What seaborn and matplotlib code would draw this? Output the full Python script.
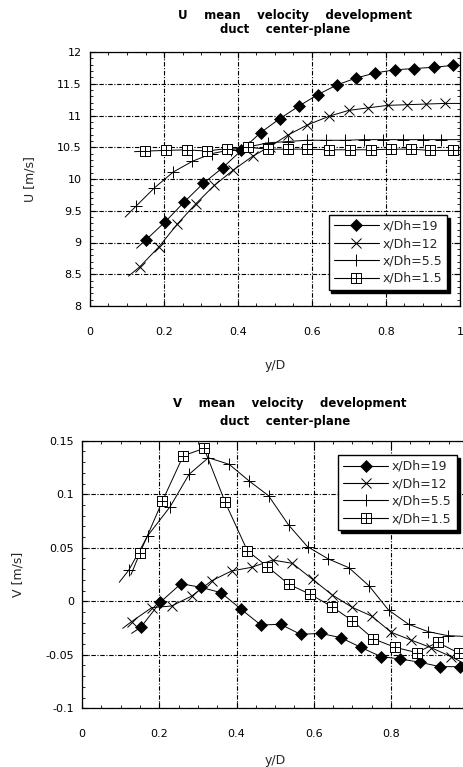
import matplotlib
matplotlib.use("Agg")
import matplotlib.pyplot as plt
import seaborn as sns
from matplotlib.path import Path
from matplotlib.lines import Line2D
from matplotlib.ticker import MultipleLocator, FixedLocator, FixedFormatter

sns.set_theme(style="ticks")
plt.rcParams['font.family'] = ['DejaVu Sans']

# ---------------- data: U mean velocity ----------------
labels = ["x/Dh=19", "x/Dh=12", "x/Dh=5.5", "x/Dh=1.5"]

u19_x = [0.126, 0.151, 0.204, 0.255, 0.306, 0.359, 0.409, 0.461, 0.513, 0.565, 0.616, 0.667, 0.719, 0.771, 0.824, 0.877, 0.930, 0.982]
u19_y = [8.91, 9.04, 9.33, 9.64, 9.93, 10.18, 10.45, 10.73, 10.95, 11.15, 11.33, 11.48, 11.59, 11.67, 11.72, 11.74, 11.76, 11.79]

u12_x = [0.104, 0.135, 0.186, 0.236, 0.286, 0.336, 0.387, 0.440, 0.486, 0.534, 0.587, 0.647, 0.699, 0.751, 0.805, 0.856, 0.907, 0.959, 1.0]
u12_y = [8.47, 8.62, 8.93, 9.29, 9.61, 9.90, 10.14, 10.36, 10.51, 10.69, 10.85, 10.99, 11.08, 11.12, 11.16, 11.17, 11.18, 11.19, 11.19]

u55_x = [0.095, 0.124, 0.174, 0.225, 0.277, 0.329, 0.380, 0.431, 0.482, 0.534, 0.586, 0.637, 0.689, 0.741, 0.793, 0.847, 0.899, 0.950, 1.0]
u55_y = [9.40, 9.57, 9.86, 10.11, 10.28, 10.40, 10.46, 10.51, 10.57, 10.59, 10.61, 10.61, 10.61, 10.62, 10.62, 10.62, 10.62, 10.62, 10.62]

u15_x = [0.12, 0.150, 0.205, 0.261, 0.315, 0.371, 0.426, 0.480, 0.536, 0.587, 0.647, 0.703, 0.759, 0.813, 0.868, 0.919, 0.980, 1.0]
u15_y = [10.43, 10.44, 10.45, 10.46, 10.44, 10.48, 10.50, 10.47, 10.47, 10.47, 10.46, 10.46, 10.46, 10.47, 10.47, 10.45, 10.45, 10.45]

# ---------------- data: V mean velocity ----------------
v19_x = [0.128, 0.152, 0.202, 0.256, 0.308, 0.360, 0.412, 0.463, 0.514, 0.566, 0.618, 0.670, 0.722, 0.774, 0.824, 0.876, 0.927, 0.979, 1.0]
v19_y = [-0.030, -0.0243, -0.001, 0.0164, 0.0130, 0.0080, -0.0075, -0.0222, -0.0215, -0.0309, -0.0300, -0.0340, -0.0430, -0.0517, -0.0539, -0.0570, -0.0611, -0.0611, -0.061]

v12_x = [0.105, 0.128, 0.180, 0.232, 0.284, 0.336, 0.387, 0.439, 0.494, 0.545, 0.597, 0.648, 0.700, 0.750, 0.801, 0.852, 0.904, 0.956, 1.0]
v12_y = [-0.0253, -0.019, -0.006, -0.0044, 0.0049, 0.0192, 0.0283, 0.0317, 0.0385, 0.0354, 0.0205, 0.0059, -0.0057, -0.0138, -0.0290, -0.0362, -0.0433, -0.0517, -0.060]

v55_x = [0.096, 0.121, 0.170, 0.228, 0.277, 0.327, 0.381, 0.433, 0.483, 0.535, 0.584, 0.638, 0.691, 0.743, 0.794, 0.846, 0.897, 0.947, 1.0]
v55_y = [0.0177, 0.0292, 0.0613, 0.0884, 0.1186, 0.1341, 0.1279, 0.1123, 0.0986, 0.0712, 0.0510, 0.0395, 0.0314, 0.0146, -0.0082, -0.0215, -0.0284, -0.0321, -0.033]

v15_x = [0.126, 0.150, 0.208, 0.262, 0.316, 0.370, 0.428, 0.480, 0.536, 0.591, 0.647, 0.700, 0.755, 0.811, 0.867, 0.921, 0.977]
v15_y = [0.0245, 0.0454, 0.0937, 0.136, 0.1428, 0.0930, 0.0473, 0.0323, 0.0158, 0.0065, -0.0050, -0.0181, -0.0352, -0.0430, -0.0480, -0.0384, -0.0486]

x_ticks = [0, 0.2, 0.4, 0.6, 0.8, 1.0]
x_ticklabels_top = ["0", "0.2", "0.4", "0.6", "0.8", "1"]
x_ticklabels_bottom = ["0", "0.2", "0.4", "0.6", "0.8", ""]   # "1" falls outside the picture
u_ticks = [8, 8.5, 9, 9.5, 10, 10.5, 11, 11.5, 12]
u_ticklabels = ["8", "8.5", "9", "9.5", "10", "10.5", "11", "11.5", "12"]
v_ticks = [-0.1, -0.05, 0, 0.05, 0.1, 0.15]
v_ticklabels = ["-0.1", "-0.05", "0", "0.05", "0.1", "0.15"]

# ---------------- styling ----------------
sq_verts = [(-1, -1), (1, -1), (1, 1), (-1, 1), (-1, -1),
            (0, -1), (0, 1), (-1, 0), (1, 0)]
sq_codes = [Path.MOVETO, Path.LINETO, Path.LINETO, Path.LINETO, Path.CLOSEPOLY,
            Path.MOVETO, Path.LINETO, Path.MOVETO, Path.LINETO]
box_plus = Path(sq_verts, sq_codes)

styles = [
    dict(marker="D", markersize=6, mfc="black", mec="black", mew=0.5),
    dict(marker="x", markersize=7.5, mfc="none", mec="black", mew=0.7),
    dict(marker="+", markersize=9, mfc="none", mec="black", mew=0.7),
    dict(marker=box_plus, markersize=7.5, mfc="white", mec="black", mew=0.7),
]

fig = plt.figure(figsize=(4.64, 7.67), dpi=100)
ax1 = fig.add_axes([90 / 464, 1 - 306 / 767, 370 / 464, 254 / 767])
ax2 = fig.add_axes([82.2 / 464, 1 - 708.3 / 767, 385.8 / 464, 267.6 / 767])

gridstyle = dict(color="black", linewidth=0.8, linestyle=(0, (4, 1.5, 1, 1.5)))


def mevery(xs):
    idx = list(range(len(xs)))
    out = idx[1:]
    if xs[-1] >= 0.999:
        out = out[:-1]
    return out


def draw(ax, series, ylim, yticks, yticklabels, xticklabels, ylabel, ymin_step,
         legend_loc, legend_anchor, xlabelpad, ylabelpad):
    for (xs, ys), st in zip(series, styles):
        sns.lineplot(x=xs, y=ys, ax=ax, color="black", linewidth=0.7,
                     markevery=mevery(xs), estimator=None, sort=False, **st)
    ax.set_xlim(0, 1)
    ax.set_ylim(*ylim)
    ax.xaxis.set_major_locator(FixedLocator(x_ticks))
    ax.xaxis.set_major_formatter(FixedFormatter(xticklabels))
    ax.xaxis.set_minor_locator(MultipleLocator(0.05))
    ax.yaxis.set_major_locator(FixedLocator(yticks))
    ax.yaxis.set_major_formatter(FixedFormatter(yticklabels))
    ax.yaxis.set_minor_locator(MultipleLocator(ymin_step))
    ax.tick_params(which="both", direction="in", top=True, right=True,
                   color="black", labelsize=8, labelcolor="black")
    ax.tick_params(which="major", length=4, width=0.8)
    ax.tick_params(which="minor", length=2.5, width=0.6)
    ax.tick_params(axis="x", pad=15)
    ax.tick_params(axis="y", pad=6)
    ax.grid(True, which="major", **gridstyle)
    for s in ax.spines.values():
        s.set_color("black")
        s.set_linewidth(0.9)
    ax.spines["top"].set_linestyle((0, (2, 1)))
    ax.set_xlabel("y/D", fontsize=9, labelpad=xlabelpad)
    ax.set_ylabel(ylabel, fontsize=9, labelpad=ylabelpad)
    ax.set_facecolor("white")
    handles = [Line2D([0], [0], color="black", linewidth=0.8, **st) for st in styles]
    leg = ax.legend(handles, labels, loc=legend_loc, bbox_to_anchor=legend_anchor,
                    fontsize=9, handlelength=3.6, handletextpad=0.3, labelspacing=0.35,
                    borderpad=0.4, borderaxespad=0, fancybox=False, framealpha=1,
                    edgecolor="black", shadow={"color": "black", "alpha": 1},
                    numpoints=1)
    leg.get_frame().set_linewidth(1.0)


draw(ax1, [(u19_x, u19_y), (u12_x, u12_y), (u55_x, u55_y), (u15_x, u15_y)],
     (8, 12), u_ticks, u_ticklabels, x_ticklabels_top, "U [m/s]", 0.1,
     "lower right", (0.965, 0.063), 16, 15)
draw(ax2, [(v19_x, v19_y), (v12_x, v12_y), (v55_x, v55_y), (v15_x, v15_y)],
     (-0.1, 0.15), v_ticks, v_ticklabels, x_ticklabels_bottom, "V [m/s]", 0.01,
     "upper right", (0.971, 0.947), 11, 15)

tfont = dict(fontsize=8.5, fontweight="bold", ha="center", va="center", color="black")
fig.text(295 / 464, 1 - 15 / 767, "U    mean    velocity    development", **tfont)
fig.text(285 / 464, 1 - 30 / 767, "duct    center-plane", **tfont)
fig.text(290 / 464, 1 - 404 / 767, "V    mean    velocity    development", **tfont)
fig.text(285 / 464, 1 - 421 / 767, "duct    center-plane", **tfont)

fig.savefig("out.png", dpi=100, facecolor="white")
